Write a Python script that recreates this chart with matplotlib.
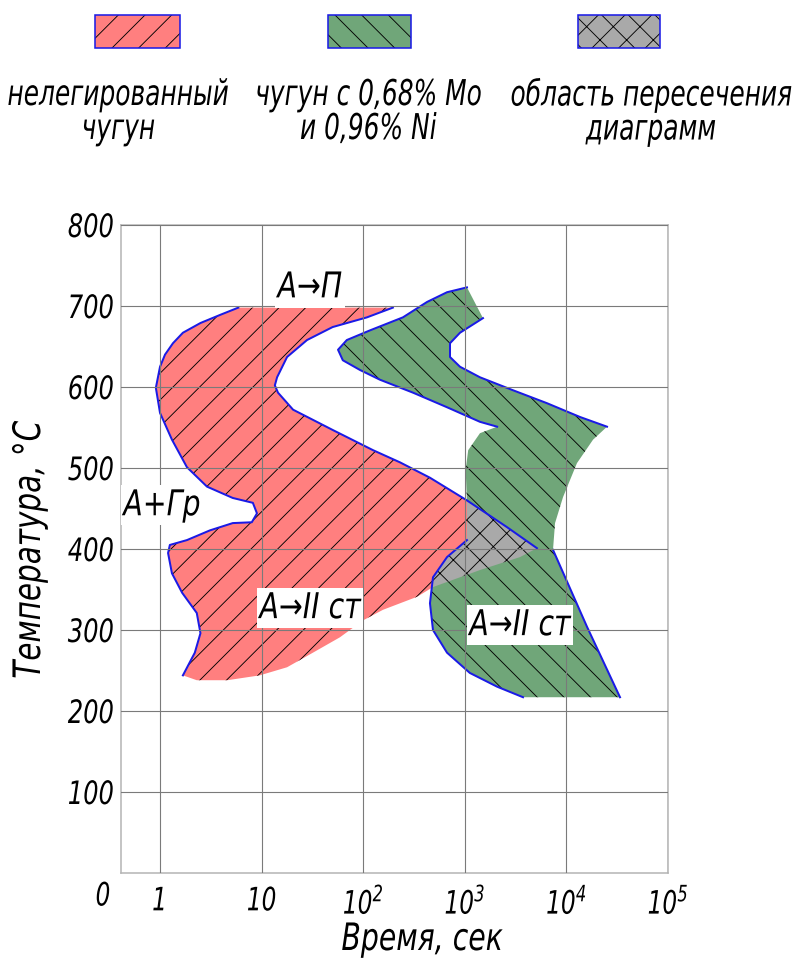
"""
C-curve (TTT) diagram: unalloyed cast iron vs. cast iron with 0.68% Mo and 0.96% Ni.
"""

import matplotlib
matplotlib.use("Agg")
import matplotlib.pyplot as plt
from matplotlib.patches import Rectangle
from matplotlib.ticker import NullLocator
from matplotlib.patheffects import AbstractPathEffect
from matplotlib.transforms import Affine2D

# no narrow drafting font here -> DejaVu oblique, squeezed sideways (see Squeeze)
plt.rcParams["font.family"] = ["DejaVu Sans"]
plt.rcParams["font.style"] = "italic"
plt.rcParams["mathtext.fontset"] = "custom"
plt.rcParams["mathtext.rm"] = "DejaVu Sans:italic"
plt.rcParams["mathtext.it"] = "DejaVu Sans:italic"
plt.rcParams["hatch.color"] = "black"
plt.rcParams["hatch.linewidth"] = 0.4


# Data: (time, s ; temperature, °C)

# unalloyed iron — left (start) curve, from top down
red_left_t = [5.9, 3.9, 2.5, 1.68, 1.34, 1.12, 1.0, 0.91, 1.0, 1.31, 1.84, 2.9,
              5.2, 8.2, 9.0, 8.0, 5.2, 3.1, 1.84, 1.25, 1.2, 1.31, 1.65, 2.3,
              2.5, 2.2, 1.68]
red_left_T = [698, 689, 679, 667, 654, 640, 625, 599, 568, 535, 501, 477,
              463, 457, 444, 433, 432, 423, 411, 405, 395, 370, 346, 321,
              296, 272, 244]
# bottom edge, left to right
red_bottom_t = [2.3, 4.6, 9.6, 17.8, 32, 59, 100, 157, 339, 486, 1410, 3490]
red_bottom_T = [238, 238, 244, 254, 272, 291, 312, 325, 341, 353, 374, 390]
# right (finish) curve, from bottom tip up to the top
red_right_t = [5130, 2600, 1050, 454, 230, 125, 50, 20.4, 14.5, 13.5, 14.2,
               17.8, 28, 50, 109, 196]
red_right_T = [401, 427, 460, 488, 507, 522, 547, 572, 593, 602, 612,
               637, 658, 674, 686, 698]

# alloyed iron, boundary pieces in order round the region
green_tip_t = [1050, 1510]
green_tip_T = [723, 685]
green_upper_t = [1510, 897, 715, 715, 897, 1410, 2980, 6440, 13600, 25100]
green_upper_T = [685, 667, 654, 637, 625, 612, 596, 580, 563, 551]
green_side_t = [18300, 12700, 9260, 7730, 7380]
green_side_T = [535, 506, 464, 432, 399]
green_right_t = [7380, 15950, 33700]
green_right_T = [399, 304, 217]
green_left_t = [3740, 2080, 1120, 668, 486, 454, 486, 668, 1050]
green_left_T = [217, 230, 247, 272, 300, 333, 365, 390, 411]
green_mid_t = [1050, 1020, 1080, 1410, 2080]
green_mid_T = [457, 498, 522, 543, 551]
green_arm_t = [2080, 1410, 668, 309, 146, 93, 63, 56.5, 69, 117, 246, 425, 668, 1050]
green_arm_T = [551, 557, 575, 593, 609, 621, 633, 646, 658, 670, 686, 705, 717, 723]

x_ticks = [1, 10, 100, 1000, 1e4, 1e5]
x_labels = ["1", "10", "$10^{2}$", "$10^{3}$", "$10^{4}$", "$10^{5}$"]
y_ticks = [100, 200, 300, 400, 500, 600, 700, 800]

legend_labels = ["нелегированный\nчугун", "чугун с 0,68% Mo\nи 0,96% Ni",
                 "область пересечения\nдиаграмм"]

RED = "#ff7f7f"
GREEN = "#70a679"
GRAY = "#a9a9a9"
BLUE = "#1a1ae6"


class Squeeze(AbstractPathEffect):
    """Compress a drawn path along the text direction (fake condensed font)."""

    def __init__(self, s=0.75, anchor="center", vertical=False):
        super().__init__()
        self.s = s
        self.anchor = anchor
        self.vertical = vertical

    def draw_path(self, renderer, gc, tpath, affine, rgbFace=None):
        ext = tpath.get_extents(affine)
        if self.vertical:
            c = (ext.y0 + ext.y1) / 2
            t = Affine2D().translate(0, -c).scale(1, self.s).translate(0, c)
        else:
            c = {"center": (ext.x0 + ext.x1) / 2, "left": ext.x0, "right": ext.x1}[self.anchor]
            t = Affine2D().translate(-c, 0).scale(self.s, 1).translate(c, 0)
        renderer.draw_path(gc, tpath, affine + t, rgbFace)


def squeeze(txt, s, anchor="center", vertical=False):
    txt.set_path_effects([Squeeze(s, anchor, vertical)])
    if txt.get_bbox_patch() is not None:
        txt.get_bbox_patch().set_path_effects([Squeeze(s, anchor, vertical)])


fig = plt.figure(figsize=(797 / 160, 964 / 160), dpi=160)
ax = fig.add_axes([121 / 797, 91 / 964, 547 / 797, 648 / 964])

red_t = red_left_t + red_bottom_t + red_right_t
red_T = red_left_T + red_bottom_T + red_right_T
green_t = (green_tip_t + green_upper_t[1:] + green_side_t + green_right_t[1:]
           + green_left_t + green_mid_t + green_arm_t[1:-1])
green_T = (green_tip_T + green_upper_T[1:] + green_side_T + green_right_T[1:]
           + green_left_T + green_mid_T + green_arm_T[1:-1])

red_patch = ax.fill(red_t, red_T, facecolor=RED, edgecolor="black",
                    linewidth=0, hatch="//", zorder=1)[0]
green_patch = ax.fill(green_t, green_T, facecolor=GREEN, edgecolor="black",
                      linewidth=0, hatch="\\\\", zorder=1.1)[0]
# overlap = red region clipped by the green one
gray_patch = ax.fill(red_t, red_T, facecolor=GRAY, edgecolor="black",
                     linewidth=0, hatch="xx", zorder=1.2)[0]
gray_patch.set_clip_path(green_patch)

# blue contour pieces
line_kw = dict(color=BLUE, lw=0.9, zorder=2, solid_joinstyle="round")
ax.plot(red_left_t, red_left_T, **line_kw)
ax.plot(red_right_t, red_right_T, **line_kw)
ax.plot(green_upper_t, green_upper_T, **line_kw)
ax.plot(green_right_t, green_right_T, **line_kw)
ax.plot(green_left_t, green_left_T, **line_kw)
ax.plot(green_arm_t, green_arm_T, **line_kw)

# axes
ax.set_xscale("log")
ax.set_xlim(0.413, 1e5)
ax.set_ylim(0, 800)
ax.set_xticks(x_ticks)
ax.set_xticklabels(x_labels)
ax.xaxis.set_minor_locator(NullLocator())
ax.set_yticks(y_ticks)
ax.set_yticklabels([str(v) for v in y_ticks])
ax.tick_params(length=0, labelsize=14.5)
ax.tick_params(axis="x", pad=6)
ax.tick_params(axis="y", pad=3)
ax.grid(True, color="#7a7a7a", lw=0.5)
ax.set_axisbelow(False)
for s in ax.spines.values():
    s.set_color("#b5b5b5")
    s.set_linewidth(0.7)
for lab in ax.get_xticklabels():
    squeeze(lab, 0.72)
for lab in ax.get_yticklabels():
    squeeze(lab, 0.75, anchor="right")
zero = ax.text(-0.033, -0.037, "0", transform=ax.transAxes, fontsize=14.5,
               ha="center", va="center")
squeeze(zero, 0.72)

# region labels
box = dict(facecolor="white", edgecolor="none", pad=1.5)
region_labels = [(30, 723, "А→П"), (1.05, 454, "А+Гр"),
                 (30, 327, "А→II ст"), (3490, 306, "А→II ст")]
for t, T, s in region_labels:
    txt = ax.text(t, T, s, fontsize=16, ha="center", va="center", bbox=box, zorder=3)
    squeeze(txt, 0.8)

xl = fig.text(422 / 797, 1 - 940 / 964, "Время, сек", fontsize=17, ha="center", va="center")
squeeze(xl, 0.75)
yl = fig.text(30 / 797, 1 - 550 / 964, "Температура, °С", fontsize=17, rotation=90,
              ha="center", va="center")
squeeze(yl, 0.78, vertical=True)

# legend on top
legend_x = [95 / 797, 328 / 797, 578 / 797]
legend_w = [85 / 797, 83 / 797, 82 / 797]
legend_text_x = [118 / 797, 368 / 797, 651 / 797]
styles = [(RED, "//"), (GREEN, "\\\\"), (GRAY, "xx")]
for x0, w, tx, (fc, h), lab in zip(legend_x, legend_w, legend_text_x, styles, legend_labels):
    fig.add_artist(Rectangle((x0, 1 - 48 / 964), w, 33 / 964, transform=fig.transFigure,
                             facecolor=fc, edgecolor="black", linewidth=0, hatch=h))
    fig.add_artist(Rectangle((x0, 1 - 48 / 964), w, 33 / 964, transform=fig.transFigure,
                             fill=False, edgecolor=BLUE, linewidth=0.7))
    lt = fig.text(tx, 1 - 112 / 964, lab, fontsize=16, ha="center", va="center",
                  linespacing=1.0)
    squeeze(lt, 0.7)

fig.savefig("out.png", dpi=160)
